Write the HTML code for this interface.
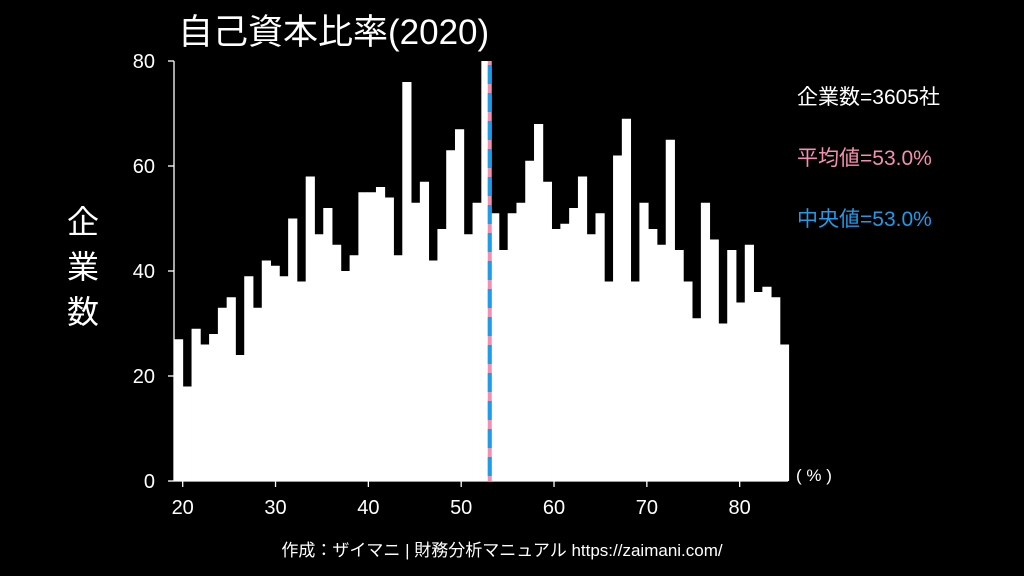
<!DOCTYPE html>
<html><head><meta charset="utf-8"><style>
body{margin:0;background:#000;}
svg{display:block;font-family:"Liberation Sans","Noto Sans CJK JP",sans-serif;}
</style></head><body>
<svg width="1024" height="576" viewBox="0 0 1024 576">
<rect width="1024" height="576" fill="#000"/>
<text x="178" y="44" fill="#fff" font-size="35">自己資本比率(2020)</text>
<g id="bars"></g>
<g id="axes"></g>
<g id="meanline"></g>
<text x="83" y="0" fill="#fff" font-size="32" text-anchor="middle"><tspan x="83" y="233">企</tspan><tspan x="83" y="278">業</tspan><tspan x="83" y="323">数</tspan></text>
<text x="797" y="104" fill="#fff" font-size="21">企業数=3605社</text>
<text x="797" y="165" fill="#f48fb1" font-size="21">平均値=53.0%</text>
<text x="797" y="226" fill="#1e9be9" font-size="21">中央値=53.0%</text>
<text x="796" y="481" fill="#fff" font-size="17">( % )</text>
<text x="502" y="556" fill="#fff" font-size="17" text-anchor="middle">作成：ザイマニ | 財務分析マニュアル https://zaimani.com/</text>
</svg>
<script>
const counts=[27,18,29,26,28,33,35,24,39,33,42,41,39,50,38,58,47,52,45,40,43,55,55,56,54,43,76,53,57,42,48,63,67,47,53,80,51,44,51,53,61,68,57,48,49,52,58,47,51,38,62,69,38,53,48,45,65,44,38,31,53,46,30,44,34,45,36,37,35,26];
const binStart=19.06;
const binWidth=0.946;
const xTicks=[20,30,40,50,60,70,80];
const yTicks=[0,20,40,60,80];
const meanValue=53.0;
const NS="http://www.w3.org/2000/svg";
const xs=v=>182.7+(v-20)*9.283;
const ys=v=>481-v*5.25;
const bars=document.getElementById('bars');
counts.forEach((c,i)=>{
 const r=document.createElementNS(NS,'rect');
 const x0=xs(binStart+i*binWidth),x1=xs(binStart+(i+1)*binWidth);
 r.setAttribute('x',x0);r.setAttribute('width',x1-x0+0.4);
 r.setAttribute('y',ys(Math.min(c,80)));r.setAttribute('height',ys(0)-ys(Math.min(c,80)));
 r.setAttribute('fill','#fff');
 
 
 bars.appendChild(r);
});
const ax=document.getElementById('axes');
function line(x1,y1,x2,y2,name){const l=document.createElementNS(NS,'line');
 l.setAttribute('x1',x1);l.setAttribute('y1',y1);l.setAttribute('x2',x2);l.setAttribute('y2',y2);
 l.setAttribute('stroke','#fff');l.setAttribute('stroke-width','1.3');
 
 
 ax.appendChild(l);}
function txt(x,y,s,anchor,name){const t=document.createElementNS(NS,'text');
 t.setAttribute('x',x);t.setAttribute('y',y);t.setAttribute('fill','#fff');t.setAttribute('font-size','20');
 t.setAttribute('text-anchor',anchor);t.textContent=s;
 
 
 ax.appendChild(t);}
line(174,61,174,481,'y-axis-line');
line(174,481,788,481,'x-axis-line');
yTicks.forEach(v=>{line(168,ys(v),174,ys(v),'y-tick');txt(155,ys(v)+7,String(v),'end','y-tick-label');});
xTicks.forEach(v=>{line(xs(v),481,xs(v),487,'x-tick');txt(xs(v),514,String(v),'middle','x-tick-label');});
const ml=document.getElementById('meanline');
const mx=xs(meanValue)+0.7;
const a=document.createElementNS(NS,'line');
a.setAttribute('x1',mx);a.setAttribute('x2',mx);a.setAttribute('y1',61);a.setAttribute('y2',481);
a.setAttribute('stroke','#f48fb1');a.setAttribute('stroke-width','4');


ml.appendChild(a);
const b=document.createElementNS(NS,'line');
b.setAttribute('x1',mx);b.setAttribute('x2',mx);b.setAttribute('y1',62);b.setAttribute('y2',481);
b.setAttribute('stroke','#1e9be9');b.setAttribute('stroke-width','4');b.setAttribute('stroke-dasharray','19 9');b.setAttribute('stroke-dashoffset','-3');


ml.appendChild(b);
</script>
</body></html>
